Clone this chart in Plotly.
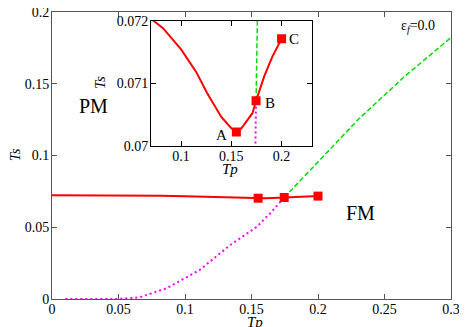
import plotly.graph_objects as go

# ---- data ----
ts_tp = [0.0, 0.03, 0.05, 0.07, 0.082, 0.1, 0.115, 0.126, 0.14, 0.15, 0.155,
         0.16, 0.171, 0.1746, 0.1825, 0.1907, 0.2]
ts_vals = [0.0723, 0.0723, 0.0722, 0.07203, 0.07188, 0.07154, 0.07118, 0.07084,
           0.07046, 0.07028, 0.07022, 0.07028, 0.07052, 0.07072, 0.0711, 0.07142, 0.07171]

mark_tp = [0.155, 0.1746, 0.2]
mark_ts = [0.07022, 0.07072, 0.07171]
mark_lbl = ["A", "B", "C"]

green_tp = [0.1746, 0.176, 0.2015, 0.231, 0.265, 0.3]
green_ts = [0.07072, 0.0721, 0.0968, 0.1258, 0.155, 0.1822]

mag_tp = [0.01, 0.05, 0.066, 0.086, 0.111, 0.134, 0.154, 0.164, 0.1746]
mag_ts = [0.0, 0.0, 0.0012, 0.0074, 0.0202, 0.0376, 0.0503, 0.0597, 0.07072]

FONT = "Liberation Serif"
RED, GREEN, MAGENTA = "#ff0000", "#00dd00", "#ff00ff"

fig = go.Figure()

for ax in (("x", "y"), ("x2", "y2")):
    fig.add_trace(go.Scatter(x=mag_tp, y=mag_ts, mode="lines", xaxis=ax[0], yaxis=ax[1],
                             line=dict(color=MAGENTA, width=2, dash="2px,3px"), showlegend=False))
    fig.add_trace(go.Scatter(x=green_tp, y=green_ts, mode="lines", xaxis=ax[0], yaxis=ax[1],
                             line=dict(color=GREEN, width=1.5, dash="5px,2.5px"), showlegend=False))
    fig.add_trace(go.Scatter(x=ts_tp, y=ts_vals, mode="lines", xaxis=ax[0], yaxis=ax[1],
                             line=dict(color=RED, width=2), showlegend=False))
    fig.add_trace(go.Scatter(x=mark_tp, y=mark_ts, mode="markers", xaxis=ax[0], yaxis=ax[1],
                             marker=dict(color=RED, size=9, symbol="square"), showlegend=False))


def axis_style(line_color, standoff):
    return dict(showline=True, linecolor=line_color, linewidth=1, mirror="ticks",
                ticks="inside", ticklen=5, tickcolor=line_color, showgrid=False,
                zeroline=False, automargin=False, ticklabelstandoff=standoff,
                ticklabeloverflow="allow",
                tickfont=dict(family=FONT, size=14, color="black"))


# the page body has an 8px margin, so the figure is sized to fit the window
fig.update_layout(
    width=459, height=319,
    margin=dict(l=44, r=16, t=4, b=28),
    paper_bgcolor="white", plot_bgcolor="white",
    font=dict(family=FONT, size=14, color="black"),
    xaxis=dict(range=[0, 0.3], dtick=0.05, tick0=0, domain=[0, 1],
               **axis_style("#555", -3)),
    yaxis=dict(range=[0, 0.2], dtick=0.05, tick0=0, domain=[0, 1],
               **axis_style("#555", -1)),
    xaxis2=dict(range=[0.07, 0.23], dtick=0.05, tick0=0, domain=[0.248, 0.651],
                anchor="y2", **axis_style("black", -3)),
    yaxis2=dict(range=[0.07, 0.072], dtick=0.001, tick0=0.07, domain=[0.534, 0.970],
                anchor="x2", **axis_style("black", -1)),
)

ann = [
    dict(text="<i>Tp</i>", x=0.509, y=-0.08, size=15, angle=0),
    dict(text="<i>Ts</i>", x=-0.092, y=0.502, size=15, angle=-90),
    dict(text="<i>Tp</i>", x=0.446, y=0.453, size=15, angle=0),
    dict(text="<i>Ts</i>", x=0.120, y=0.756, size=15, angle=-90),
    dict(text="PM", x=0.103, y=0.672, size=20, angle=0),
    dict(text="FM", x=0.772, y=0.300, size=20, angle=0),
    dict(text="ε<sub><i>f</i></sub>=0.0", x=0.918, y=0.951, size=14, angle=0),
]
for a in ann:
    fig.add_annotation(text=a["text"], x=a["x"], y=a["y"], xref="paper", yref="paper",
                       xanchor="center", yanchor="middle",
                       showarrow=False, textangle=a["angle"],
                       font=dict(family=FONT, size=a["size"], color="black"))

lbl_x = [0.1404, 0.1888, 0.2124]
lbl_y = [0.070171, 0.070678, 0.0717]
for t, lx, ly in zip(mark_lbl, lbl_x, lbl_y):
    fig.add_annotation(text=t, x=lx, y=ly, xref="x2", yref="y2", showarrow=False,
                       xanchor="center", yanchor="middle",
                       font=dict(family=FONT, size=15, color="black"))

fig.write_html("out.html")
